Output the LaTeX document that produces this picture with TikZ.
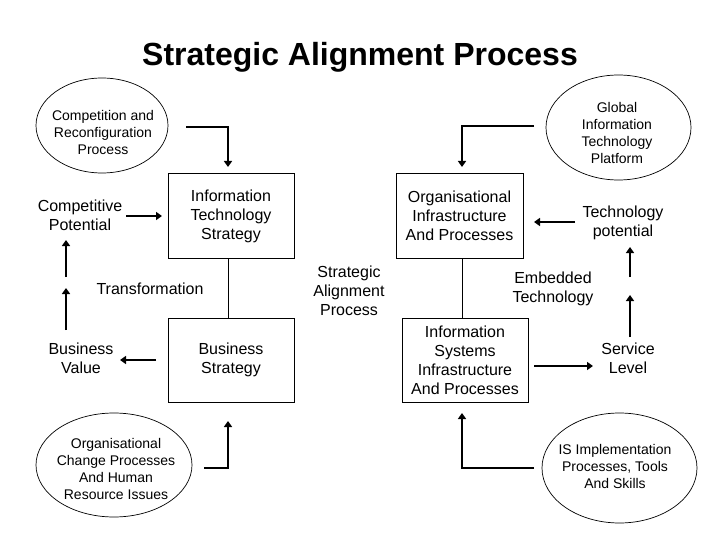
\documentclass[tikz,border=0pt]{standalone}
\usepackage{fontspec}
\setmainfont{Liberation Sans}
\usetikzlibrary{shapes.geometric,arrows.meta}
\tikzset{
  boxnode/.style={draw, line width=1pt, rectangle, minimum width=126pt, minimum height=84pt, inner sep=0pt, align=center, font=\fontsize{16}{19}\selectfont},
  ovalnode/.style={draw, line width=0.7pt, ellipse, inner sep=0pt},
  ovaltext/.style={inner sep=0pt, align=center, font=\fontsize{14}{17}\selectfont},
  plaintext/.style={inner sep=0pt, align=center, font=\fontsize{16}{19}\selectfont},
  thickarrow/.style={line width=2.8pt, -{Triangle[length=6pt,width=8pt]}},
  thinline/.style={line width=1pt}
}
\begin{document}
\begin{tikzpicture}[x=1pt,y=-1pt]
\useasboundingbox (0,0) rectangle (720,540);
\fill[white] (0,0) rectangle (720,540);

\node[inner sep=0pt, font=\fontsize{32}{38}\selectfont\bfseries] (title) at (360,57.5) {Strategic Alignment Process};

% left column
\node[ovalnode, minimum width=132pt, minimum height=95pt] (comp) at (102,125.5) {};
\node[ovaltext] (comptext) at (103,132.5) {Competition and\\Reconfiguration\\Process};
\node[boxnode] (its) at (231,216) {Information\\Technology\\Strategy};
\node[plaintext] (cp) at (80,215) {Competitive\\Potential};
\node[plaintext] (trans) at (150,289) {Transformation};
\node[boxnode] (bs) at (231,360) {Business\\Strategy};
\node[plaintext] (bv) at (81,358) {Business\\Value};
\node[ovalnode, minimum width=156pt, minimum height=104pt] (oc) at (114,465) {};
\node[ovaltext] (octext) at (116,469) {Organisational\\Change Processes\\And Human\\Resource Issues};

% middle
\node[plaintext] (sap) at (349,291) {Strategic\\Alignment\\Process};

% right column
\node[ovalnode, minimum width=145pt, minimum height=105pt] (glob) at (618.5,127.5) {};
\node[ovaltext] (globtext) at (617,133) {Global\\Information\\Technology\\Platform};
\node[boxnode, minimum width=127pt] (oi) at (459.5,216) {Organisational\\Infrastructure\\And Processes};
\node[plaintext] (tp) at (623,223) {Technology\\potential};
\node[plaintext] (et) at (553,289) {Embedded\\Technology};
\node[boxnode] (is) at (465,360) {Information\\Systems\\Infrastructure\\And Processes};
\node[plaintext] (sl) at (628,358) {Service\\Level};
\node[ovalnode, minimum width=155pt, minimum height=110pt] (ii) at (619.5,468) {};
\node[ovaltext] (iitext) at (615,466.5) {IS Implementation\\Processes, Tools\\And Skills};

% connector coordinates
\coordinate (c1s) at (186,127);
\coordinate (c1m) at (228,127);
\coordinate (c1e) at (228,167);
\coordinate (c2s) at (126,216);
\coordinate (c2e) at (162,216);
\coordinate (c3s) at (156,360);
\coordinate (c3e) at (120,360);
\coordinate (c4s) at (66,330);
\coordinate (c4e) at (66,288);
\coordinate (c5s) at (66,277);
\coordinate (c5e) at (66,240);
\coordinate (c6s) at (204,468);
\coordinate (c6m) at (228,468);
\coordinate (c6e) at (228,421);
\coordinate (d1s) at (534,126);
\coordinate (d1m) at (462,126);
\coordinate (d1e) at (462,167);
\coordinate (d2s) at (575,222);
\coordinate (d2e) at (534,222);
\coordinate (d3s) at (534,366);
\coordinate (d3e) at (593,366);
\coordinate (d4s) at (630,337);
\coordinate (d4e) at (630,295);
\coordinate (d5s) at (630,277);
\coordinate (d5e) at (630,247);
\coordinate (d6s) at (534,468);
\coordinate (d6m) at (462,468);
\coordinate (d6e) at (462,413);

% thin links
\draw[thinline] ([xshift=-3pt]its.south) -- ([xshift=-3pt]bs.north);
\draw[thinline] ([xshift=2.5pt]oi.south) -- ([xshift=-3pt]is.north);

% arrows
\draw[thickarrow] (c1s) -- (c1m) -- (c1e);
\draw[thickarrow] (c2s) -- (c2e);
\draw[thickarrow] (c3s) -- (c3e);
\draw[thickarrow] (c4s) -- (c4e);
\draw[thickarrow] (c5s) -- (c5e);
\draw[thickarrow] (c6s) -- (c6m) -- (c6e);
\draw[thickarrow] (d1s) -- (d1m) -- (d1e);
\draw[thickarrow] (d2s) -- (d2e);
\draw[thickarrow] (d3s) -- (d3e);
\draw[thickarrow] (d4s) -- (d4e);
\draw[thickarrow] (d5s) -- (d5e);
\draw[thickarrow] (d6s) -- (d6m) -- (d6e);
\end{tikzpicture}
\end{document}
